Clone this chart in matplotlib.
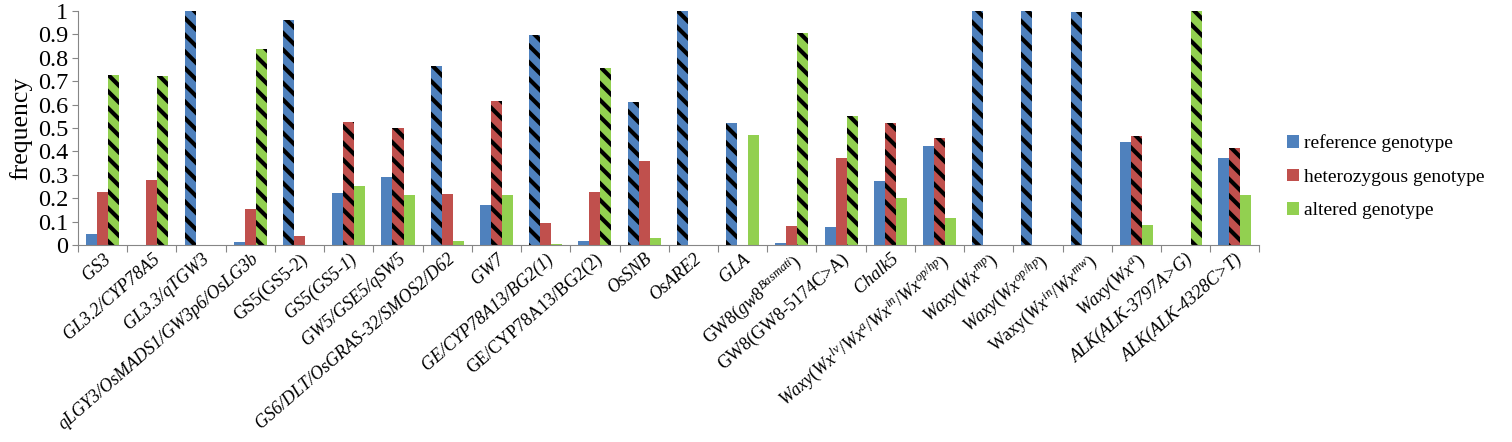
import numpy as np
import matplotlib
matplotlib.use("Agg")
import matplotlib.pyplot as plt
from matplotlib.patches import Patch
from matplotlib.ticker import MultipleLocator, FormatStrFormatter

# chart data
loci = [
    "GS3", "GL3.2/CYP78A5", "GL3.3/qTGW3", "qLGY3/OsMADS1/GW3p6/OsLG3b",
    "GS5(GS5-2)", "GS5(GS5-1)", "GW5/GSE5/qSW5", "GS6/DLT/OsGRAS-32/SMOS2/D62",
    "GW7", "GE/CYP78A13/BG2(1)", "GE/CYP78A13/BG2(2)", "OsSNB", "OsARE2", "GLA",
    r"$\mathrm{GW8(}gw8^{Basmati})$", "GW8(GW8-5174C>A)", "Chalk5",
    r"$Waxy(Wx^{lv}/Wx^{a}/Wx^{in}/Wx^{op/hp})$", r"$Waxy(Wx^{mp})$",
    r"$Waxy(Wx^{op/hp})$", r"$\mathrm{Waxy(}Wx^{in}/Wx^{mw})$", r"$Waxy(Wx^{a})$",
    "ALK(ALK-3797A>G)", "ALK(ALK-4328C>T)",
]
italic = [1, 1, 1, 1, 0, 1, 1, 1, 1, 1, 0, 1, 1, 1, 0, 0, 1, 0, 0, 0, 0, 0, 1, 1]

reference = [0.047, 0.0, 1.0, 0.013, 0.962, 0.222, 0.289, 0.767, 0.172, 0.898,
             0.018, 0.610, 1.0, 0.523, 0.009, 0.077, 0.275, 0.425, 1.0, 1.0,
             0.997, 0.442, 0.0, 0.373]
heterozygous = [0.225, 0.276, 0.0, 0.152, 0.037, 0.525, 0.500, 0.218, 0.616, 0.095,
                0.225, 0.357, 0.0, 0.002, 0.083, 0.374, 0.521, 0.458, 0.0, 0.0,
                0.0, 0.468, 0.0, 0.414]
altered = [0.728, 0.721, 0.0, 0.836, 0.0, 0.253, 0.213, 0.018, 0.215, 0.004,
           0.757, 0.031, 0.0, 0.471, 0.908, 0.550, 0.203, 0.115, 0.0, 0.0,
           0.0, 0.087, 1.0, 0.215]

series_names = ["reference genotype", "heterozygous genotype", "altered genotype"]
colors = ["#4F81BD", "#C0504D", "#92D050"]

plt.rcParams["font.family"] = ["Liberation Serif", "DejaVu Serif"]
plt.rcParams["mathtext.fontset"] = "custom"
plt.rcParams["mathtext.rm"] = "Liberation Serif"
plt.rcParams["mathtext.it"] = "Liberation Serif:italic"
plt.rcParams["hatch.linewidth"] = 3.0

fig = plt.figure(figsize=(15.12, 4.42), dpi=100)
ax = fig.add_axes([0.0516, 0.4457, 0.7814, 0.5293])

data = np.array([reference, heterozygous, altered])
top = data.argmax(axis=0)  # the largest class of each locus is hatched
x = np.arange(len(loci))
w = 0.224

for i in range(3):
    bars = ax.bar(x + (i - 1) * w, data[i], w, color=colors[i], linewidth=0)
    for j, b in enumerate(bars):
        if top[j] == i:
            b.set_hatch("\\\\")
            b.set_edgecolor("black")

ax.set_xlim(-0.5, len(loci) - 0.5)
ax.set_ylim(0, 1)
ax.yaxis.set_major_locator(MultipleLocator(0.1))
ax.yaxis.set_major_formatter(FormatStrFormatter("%g"))
ax.tick_params(axis="y", labelsize=17.5, length=4, color="#868686", pad=3)
ax.set_ylabel("frequency", fontsize=18.5, labelpad=4)

ax.spines["top"].set_visible(False)
ax.spines["right"].set_visible(False)
ax.spines["left"].set_color("#868686")
ax.spines["bottom"].set_color("#868686")

# ticks between categories, labels at the centres
ax.set_xticks(np.arange(len(loci) + 1) - 0.5)
ax.set_xticklabels([])
ax.tick_params(axis="x", length=5, color="#868686")
ax.set_xticks(x, minor=True)
ax.set_xticklabels(loci, minor=True)
ax.tick_params(axis="x", which="minor", length=0, pad=4, labelsize=13)
for lab, it in zip(ax.get_xticklabels(minor=True), italic):
    lab.set_rotation(41)
    lab.set_rotation_mode("anchor")
    lab.set_ha("right")
    lab.set_va("top")
    if it:
        lab.set_fontstyle("italic")

handles = [Patch(facecolor=c, linewidth=0) for c in colors]
fig.legend(handles, series_names, loc="center left", bbox_to_anchor=(0.845, 0.60),
           frameon=False, fontsize=14, handlelength=0.6, handleheight=0.6,
           handletextpad=0.25, labelspacing=0.85, borderpad=0)

fig.savefig("out.png", dpi=100)
